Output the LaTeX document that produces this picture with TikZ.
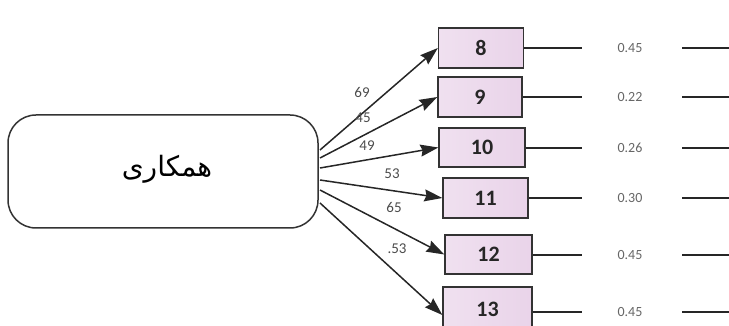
\documentclass[tikz,border=0pt]{standalone}
\usepackage{fontspec}
\setmainfont{Carlito}
\newfontfamily\arabicfont[Script=Arabic]{DejaVu Sans}
\TeXXeTstate=1
\usetikzlibrary{arrows.meta}
\begin{document}
\begin{tikzpicture}[x=1pt,y=-1pt,
  item/.style={draw=black!80, line width=1.3pt, left color=white!88!violet, right color=violet!17, minimum height=40pt, inner sep=0pt, font=\fontsize{22}{22}\selectfont\bfseries, text=black!85},
  arr/.style={line width=1.5pt, black!85, -{Stealth[length=18pt,width=12pt,inset=2pt]}},
  lbl/.style={font=\fontsize{15}{15}\selectfont, text=black!70, inner sep=0pt},
  val/.style={font=\fontsize{14}{14}\selectfont, text=black!60, inner sep=0pt},
  err/.style={line width=1.5pt, black!85}]
\useasboundingbox (0,0) rectangle (729,326);
\node[draw=black!80, line width=1.5pt, rounded corners=28pt, minimum width=310pt, minimum height=113pt, inner sep=0pt] (F) at (163,171.5) {};
\node[inner sep=0pt] (Ft) at (167,169) {\arabicfont\fontsize{28}{28}\selectfont\beginR همکاری\endR};
% indicator boxes
\node[item, minimum width=85pt] (b8) at (481,48) {8};
\node[item, minimum width=84pt] (b9) at (480,97) {9};
\node[item, minimum width=86pt, minimum height=39pt] (b10) at (482,147.5) {10};
\node[item, minimum width=85pt] (b11) at (485.5,198) {11};
\node[item, minimum width=87pt, minimum height=39pt] (b12) at (488.5,254.5) {12};
\node[item, minimum width=89pt, minimum height=44pt] (b13) at (487.5,309) {13};
% start coordinates
\coordinate (s8) at (320,150);
\coordinate (s9) at (320,158);
\coordinate (s10) at (320,168);
\coordinate (s11) at (320,180);
\coordinate (s12) at (320,190);
\coordinate (s13) at (320,203);
\draw[arr] (s8) -- (b8.west);
\draw[arr] (s9) -- (b9.west);
\draw[arr] (s10) -- (b10.west);
\draw[arr] (s11) -- (b11.west);
\draw[arr] (s12) -- (b12.west);
\draw[arr] (s13) -- ([yshift=-6pt]b13.west);
% loading labels
\node[lbl] (l8) at (362,92) {69};
\node[lbl] (l9) at (363,118) {45};
\node[lbl] (l10) at (367,146) {49};
\node[lbl] (l11) at (392,174) {53};
\node[lbl] (l12) at (394,207) {65};
\node[lbl] (l13) at (397,249) {.53};
% error lines and values
\foreach \n/\y/\v in {8/48/0.45, 9/97/0.22, 10/148/0.26, 11/198/0.30, 12/255/0.45, 13/312/0.45}{
  \coordinate (e\n) at (582,\y);
  \coordinate (r\n) at (729,\y);
  \coordinate (q\n) at (682,\y);
  \draw[err] (b\n.east |- e\n) -- (e\n);
  \node[val] (v\n) at (630,\y) {\v};
  \draw[err] (q\n) -- (r\n);
}
\end{tikzpicture}
\end{document}
